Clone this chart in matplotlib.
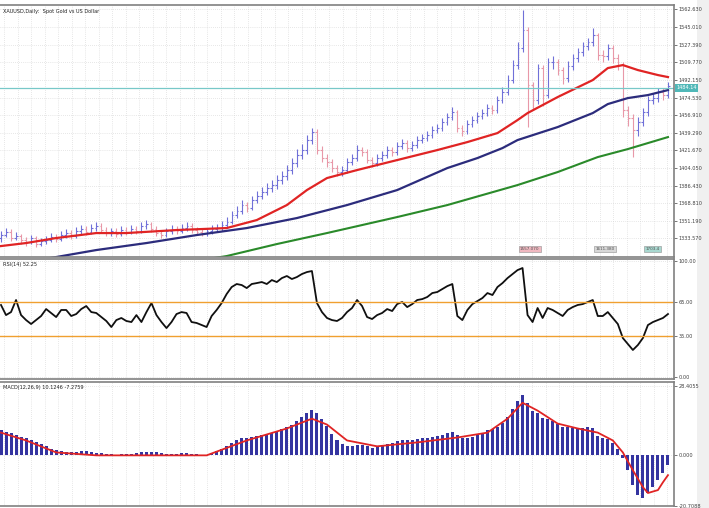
import numpy as np
import matplotlib.pyplot as plt
from matplotlib.patches import Rectangle

# daily bars (open of each bar = previous close)
first_open = 1334
closes = [1337, 1340, 1334, 1336, 1332, 1330, 1334, 1328, 1331, 1332,
          1335, 1333, 1337, 1339, 1336, 1341, 1343, 1340, 1344, 1346,
          1342, 1339, 1341, 1338, 1342, 1340, 1343, 1341, 1346, 1348,
          1343, 1339, 1337, 1341, 1343, 1341, 1344, 1346, 1342, 1340,
          1339, 1341, 1343, 1344, 1347, 1350, 1357, 1361, 1367, 1364,
          1372, 1376, 1380, 1384, 1387, 1392, 1396, 1402, 1409, 1417,
          1422, 1432, 1440, 1422, 1414, 1410, 1404, 1400, 1402, 1410,
          1414, 1422, 1420, 1412, 1409, 1414, 1417, 1422, 1420, 1426,
          1429, 1424, 1427, 1432, 1434, 1437, 1442, 1444, 1450, 1455,
          1460, 1444, 1441, 1448, 1452, 1456, 1459, 1464, 1462, 1472,
          1480, 1492, 1507, 1524, 1542, 1487, 1472, 1504, 1477, 1510,
          1510, 1502, 1494, 1506, 1514, 1520, 1526, 1530, 1537, 1517,
          1516, 1524, 1514, 1507, 1462, 1454, 1442, 1450, 1460, 1472,
          1474, 1480, 1477, 1486]
highs = [1341, 1344, 1343, 1340, 1338, 1335, 1337, 1336, 1334, 1336,
         1339, 1338, 1341, 1343, 1342, 1345, 1347, 1346, 1348, 1350,
         1349, 1345, 1344, 1344, 1346, 1345, 1347, 1346, 1350, 1352,
         1350, 1346, 1342, 1344, 1347, 1346, 1348, 1350, 1349, 1345,
         1343, 1344, 1347, 1348, 1351, 1355, 1361, 1366, 1372, 1370,
         1376, 1381, 1385, 1389, 1392, 1397, 1401, 1407, 1414, 1423,
         1428, 1437, 1444, 1443, 1426, 1418, 1413, 1407, 1406, 1414,
         1418, 1427, 1425, 1423, 1415, 1418, 1421, 1426, 1425, 1430,
         1433, 1432, 1431, 1436, 1438, 1441, 1446, 1448, 1454, 1459,
         1465, 1462, 1447, 1452, 1456, 1460, 1463, 1468, 1467, 1476,
         1485, 1497, 1512, 1530, 1562, 1545, 1490, 1508, 1507, 1514,
         1516, 1513, 1505, 1511, 1518, 1524, 1530, 1534, 1544, 1539,
         1522, 1528, 1527, 1518, 1510, 1466, 1458, 1455, 1464, 1476,
         1479, 1484, 1484, 1490]
lows = [1330, 1335, 1331, 1332, 1328, 1326, 1328, 1325, 1326, 1328,
        1330, 1330, 1331, 1334, 1333, 1334, 1338, 1337, 1338, 1341,
        1339, 1336, 1336, 1335, 1336, 1337, 1338, 1338, 1339, 1343,
        1340, 1336, 1334, 1335, 1338, 1338, 1339, 1341, 1339, 1337,
        1336, 1336, 1338, 1340, 1341, 1344, 1348, 1354, 1358, 1360,
        1362, 1369, 1373, 1377, 1380, 1383, 1388, 1392, 1398, 1405,
        1413, 1418, 1428, 1418, 1410, 1405, 1400, 1396, 1396, 1399,
        1407, 1411, 1416, 1409, 1405, 1406, 1411, 1414, 1416, 1417,
        1423, 1420, 1421, 1424, 1429, 1431, 1434, 1439, 1441, 1447,
        1452, 1440, 1436, 1438, 1445, 1449, 1453, 1456, 1458, 1459,
        1469, 1477, 1489, 1503, 1520, 1445, 1462, 1468, 1466, 1474,
        1503, 1497, 1488, 1490, 1502, 1510, 1516, 1522, 1526, 1512,
        1510, 1512, 1509, 1502, 1455, 1446, 1415, 1436, 1446, 1456,
        1468, 1470, 1472, 1474]

# moving averages, read at a few bars
ma_red_idx = [0, 5, 11, 19, 25, 35, 45, 51, 57, 61, 65, 71, 79, 87, 93,
              99, 103, 105, 111, 118, 121, 124, 127, 131, 133]
ma_red = [1326, 1329, 1334, 1339, 1339, 1342, 1344, 1352, 1367, 1382,
          1394, 1402, 1412, 1422, 1430, 1439, 1452, 1459, 1475, 1492,
          1504, 1507, 1502, 1497, 1495]
ma_blue_idx = [0, 11, 19, 29, 39, 49, 59, 69, 79, 89, 95, 100, 103, 111,
               118, 121, 125, 129, 133]
ma_blue = [1306, 1315, 1322, 1329, 1337, 1344, 1354, 1367, 1382, 1404,
           1414, 1424, 1432, 1445, 1459, 1468, 1474, 1477, 1482]
ma_green_idx = [35, 45, 55, 65, 79, 89, 103, 111, 119, 125, 129, 133]
ma_green = [1308, 1316, 1328, 1339, 1355, 1367, 1387, 1400, 1415,
            1423, 1429, 1435]
last_price = 1484.14
price_ticks = [1562.63 - 17.62 * k for k in range(14)]

rsi = [62.1, 53.4, 56.0, 66.4, 53.4, 49.1, 45.7, 49.1, 52.6, 58.6,
       55.2, 51.7, 57.8, 57.8, 52.6, 54.3, 58.6, 61.2, 56.0, 55.2,
       51.7, 48.3, 43.1, 49.1, 50.9, 48.3, 47.4, 53.4, 47.4, 56.0,
       63.8, 53.4, 47.4, 42.2, 47.4, 54.3, 56.0, 55.2, 47.4, 46.6,
       44.8, 43.1, 52.6, 57.8, 63.8, 71.6, 77.6, 80.2, 79.3, 76.7,
       80.2, 81.0, 81.9, 80.2, 83.6, 81.9, 85.3, 87.1, 84.5, 86.2,
       88.8, 90.5, 91.4, 63.8, 56.0, 50.9, 49.1, 48.3, 50.9, 56.0,
       59.5, 66.4, 61.2, 51.7, 50.0, 53.4, 55.2, 58.6, 56.9, 62.9,
       64.7, 60.3, 62.9, 66.4, 67.2, 69.0, 72.4, 73.3, 75.9, 78.4,
       80.2, 52.6, 49.1, 57.8, 62.9, 65.5, 68.1, 72.4, 70.7, 77.6,
       81.0, 85.3, 88.8, 92.2, 94.0, 53.4, 47.4, 59.5, 50.9, 59.5,
       57.8, 55.2, 52.6, 57.8, 60.3, 62.1, 62.9, 64.7, 66.4, 52.6,
       52.6, 56.0, 50.9, 45.7, 33.6, 28.4, 23.3, 27.6, 33.6, 44.8,
       47.4, 49.1, 50.9, 54.3]
rsi_levels = [65, 35]

macd = [10.2, 9.7, 9.3, 8.5, 7.7, 6.9, 6.1, 5.3, 4.5, 3.7,
        2.8, 2.0, 1.6, 1.2, 1.2, 1.2, 1.6, 1.6, 1.2, 0.8,
        0.8, 0.4, 0.4, 0.1, 0.4, 0.4, 0.4, 0.8, 1.2, 1.2,
        1.2, 1.2, 0.8, 0.4, 0.4, 0.4, 0.8, 0.8, 0.4, 0.4,
        0.1, 0.1, 0.8, 1.6, 2.4, 3.7, 4.9, 6.1, 6.9, 7.3,
        7.7, 8.1, 8.5, 8.9, 9.3, 9.7, 10.6, 11.4, 12.6, 14.2,
        15.8, 17.5, 18.7, 17.5, 15.0, 12.2, 8.9, 6.1, 4.5, 3.7,
        3.7, 4.1, 4.1, 3.7, 3.2, 3.7, 4.1, 4.5, 4.9, 5.7,
        6.1, 6.1, 6.1, 6.5, 6.9, 7.3, 7.7, 8.1, 8.5, 9.3,
        9.7, 8.5, 7.3, 7.3, 7.7, 8.5, 9.3, 10.2, 10.6, 11.8,
        13.4, 15.8, 19.1, 22.3, 24.8, 21.5, 18.3, 17.5, 15.4, 15.0,
        14.2, 13.0, 11.8, 11.4, 11.0, 11.0, 11.0, 11.4, 11.0, 8.1,
        7.3, 6.5, 4.9, 2.8, -1.2, -6.1, -12.2, -16.2, -17.5, -15.4,
        -13.0, -10.2, -7.3, -4.1]
signal_idx = [0, 5, 11, 19, 29, 41, 49, 57, 62, 65, 69, 75, 83, 91, 97,
              101, 104, 107, 111, 115, 119, 122, 124, 126, 128, 129, 131,
              132, 133]
signal = [9.3, 6.1, 1.2, 0.0, 0.0, 0.0, 6.1, 11.0, 15.0, 12.6, 6.1, 3.7,
          5.3, 7.3, 9.3, 15.0, 21.5, 18.3, 13.0, 11.0, 9.3, 6.1, 1.2,
          -6.1, -13.0, -15.4, -14.2, -11.0, -8.1]

n = len(closes)
x = np.arange(n)
opens = [first_open] + closes[:-1]

FS = 3.6
TXT = '#404040'
GRID = '#d0d0d0'
FRAME = '#808080'

fig = plt.figure(figsize=(7.09, 5.08), dpi=100)
fig.patch.set_facecolor('#f0f0f0')
fig.add_artist(Rectangle((0, 0), 697 / 709, 1, transform=fig.transFigure,
                         facecolor='white', edgecolor='none', zorder=-1))

W = 674 / 709
ax1 = fig.add_axes([0.0, 0.494, W, 0.496])
ax2 = fig.add_axes([0.0, 0.254, W, 0.236])
ax3 = fig.add_axes([0.0, 0.004, W, 0.244])

vgrid = np.arange(0.6, n, 2.7)
for ax in (ax1, ax2, ax3):
    ax.set_xlim(-0.2, n + 0.2)
    ax.set_xticks(vgrid)
    ax.tick_params(axis='x', length=0, labelbottom=False)
    ax.yaxis.tick_right()
    ax.tick_params(axis='y', labelsize=FS, colors=TXT, length=2, width=0.5, pad=1.5)
    ax.grid(True, ls=(0, (1, 2)), color=GRID, lw=0.5)
    ax.set_axisbelow(True)
    ax.spines['left'].set_visible(False)
    for s in ('top', 'bottom', 'right'):
        ax.spines[s].set_color(FRAME)
        ax.spines[s].set_linewidth(1.2)

# price panel
up = [c >= o for o, c in zip(opens, closes)]
cols = ['#7070d8' if u else '#e898a8' for u in up]
ax1.vlines(x, lows, highs, colors=cols, lw=0.8)
ax1.hlines(opens, x - 0.35, x, colors=cols, lw=0.8)
ax1.hlines(closes, x, x + 0.35, colors=cols, lw=0.8)
ax1.plot(ma_green_idx, ma_green, color='#2a8a2a', lw=1.5)
ax1.plot(ma_blue_idx, ma_blue, color='#2c2c7c', lw=1.6)
ax1.plot(ma_red_idx, ma_red, color='#e02424', lw=1.6)
ax1.axhline(last_price, color='#78c8c8', lw=0.9)
ax1.set_ylim(1315, 1567)
ax1.set_yticks(price_ticks)
ax1.set_yticklabels([f'{v:.3f}' for v in price_ticks])
ax1.text(n + 0.6, last_price, f'{last_price:.2f}', fontsize=FS, color='white',
         va='center', ha='left', clip_on=False,
         bbox=dict(boxstyle='square,pad=0.25', fc='#50b8b8', ec='none'))
ax1.text(0.004, 0.985, 'XAUUSD,Daily:  Spot Gold vs US Dollar', transform=ax1.transAxes,
         fontsize=FS, color='#202020', va='top')
for xi, lab, fc in [(103.5, '1557.070', '#f0b8c0'), (118.5, '1611.380', '#d8d8d8'),
                    (128.5, '1703.4', '#a8d8d0')]:
    ax1.text(xi, 1323, lab, fontsize=3, color='#505050', va='center',
             bbox=dict(boxstyle='square,pad=0.3', fc=fc, ec='#909090', lw=0.4))

# RSI panel
ax2.plot(x, rsi, color='#101010', lw=1.3)
for lv in rsi_levels:
    ax2.axhline(lv, color='#f0a030', lw=1.0)
ax2.set_ylim(-1.7, 101.7)
ax2.set_yticks([0, 35, 65, 100])
ax2.set_yticklabels(['0.00', '35.00', '65.00', '100.00'])
ax2.text(0.004, 0.975, 'RSI(14) 52.25', transform=ax2.transAxes,
         fontsize=FS, color='#202020', va='top')

# MACD panel
ax3.bar(x, macd, width=0.6, color='#3434a0', lw=0)
ax3.plot(signal_idx, signal, color='#e02424', lw=1.3)
ax3.set_ylim(-20.7, 30.0)
ax3.set_yticks([-20.7, 0.0, 28.4])
ax3.set_yticklabels(['-20.7088', '0.000', '28.4055'])
ax3.text(0.004, 0.975, 'MACD(12,26,9) 10.1246 -7.2759', transform=ax3.transAxes,
         fontsize=FS, color='#202020', va='top')

fig.savefig('out.png', dpi=100, facecolor=fig.get_facecolor())
